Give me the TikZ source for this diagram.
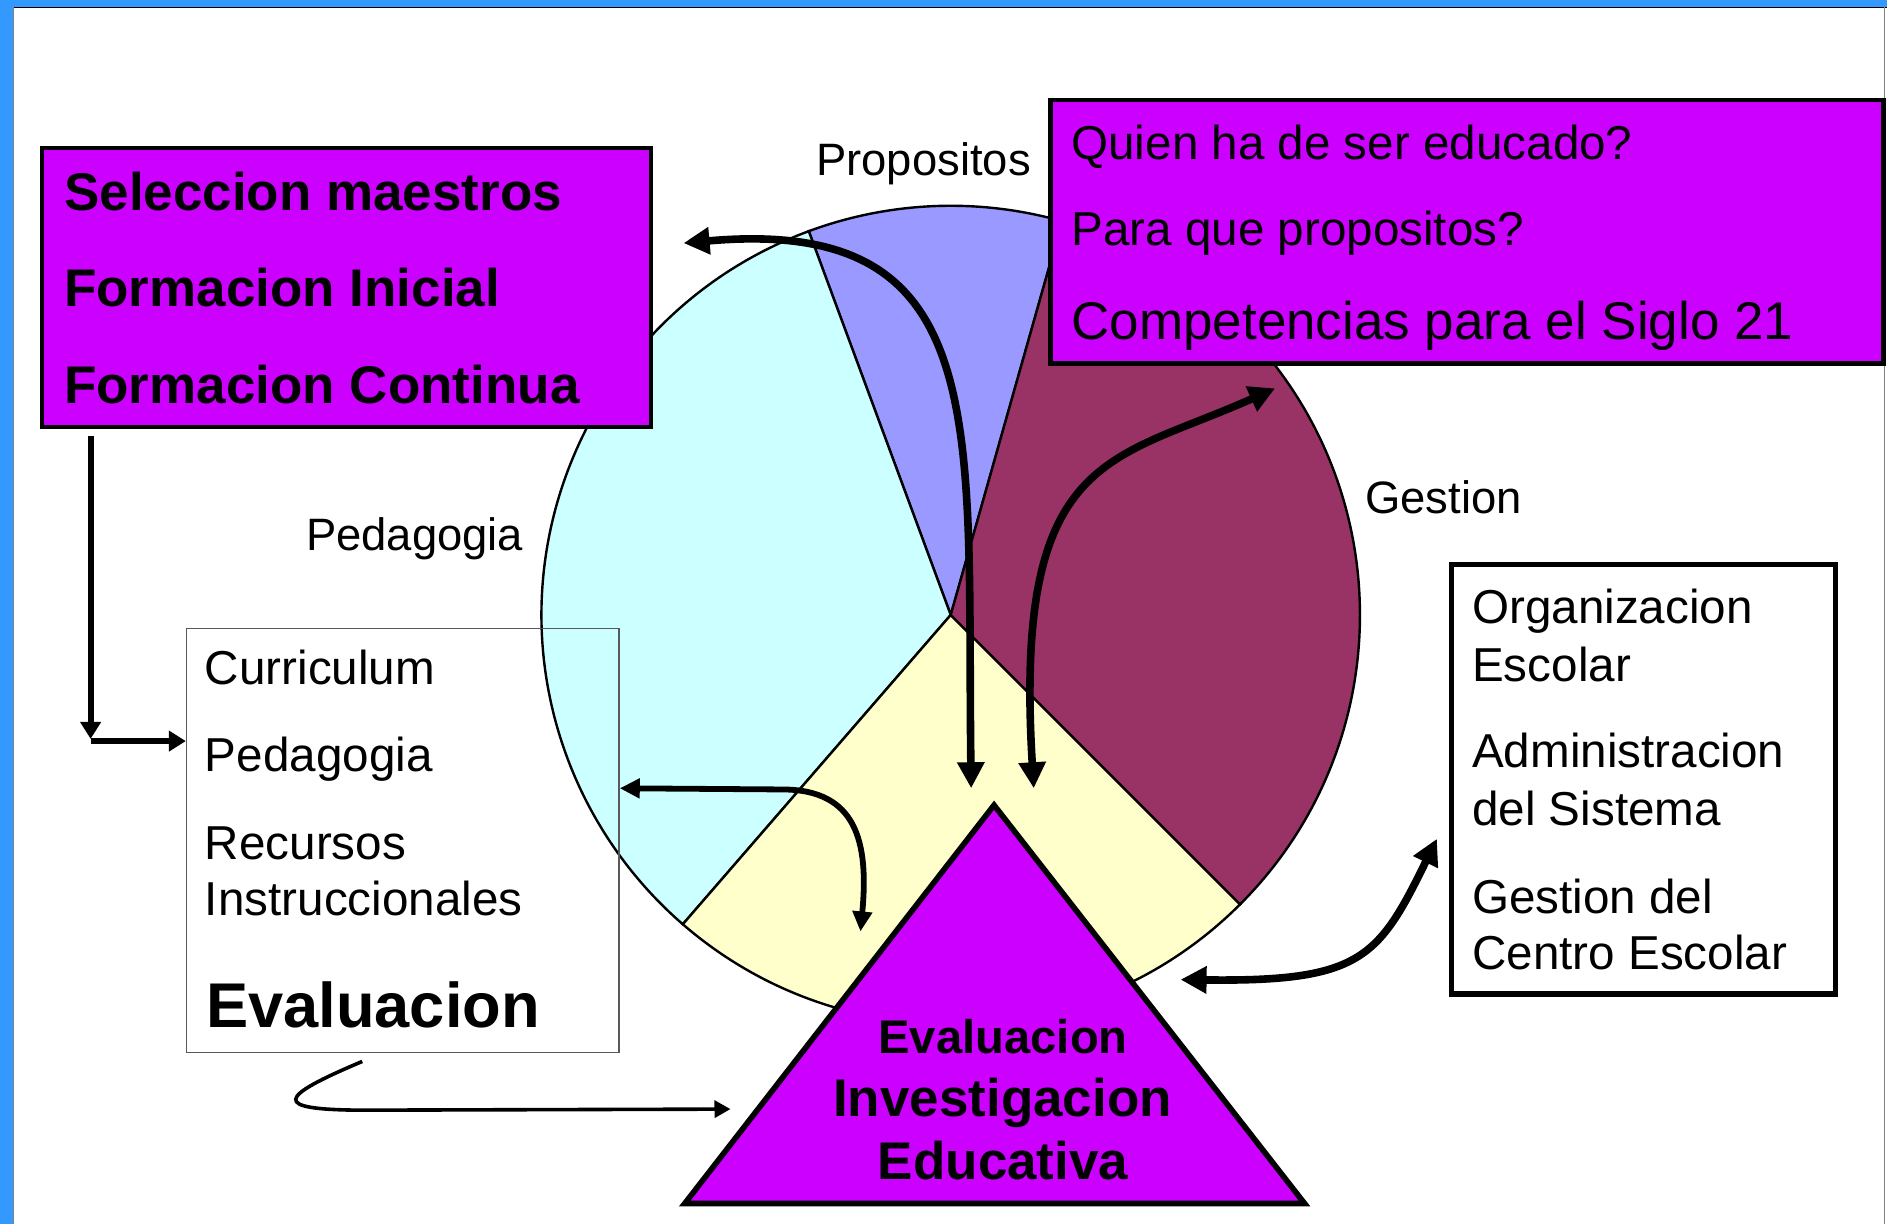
\documentclass[tikz,border=0pt]{standalone}
\usepackage{fontspec}
\setmainfont{Liberation Sans}
\usetikzlibrary{arrows.meta,fit}
\definecolor{magc}{HTML}{CC00FF}
\definecolor{slblue}{HTML}{9999FF}
\definecolor{slcyan}{HTML}{CCFFFF}
\definecolor{slyel}{HTML}{FFFFCC}
\definecolor{slmar}{HTML}{993366}
\definecolor{frameblue}{HTML}{3399FF}
\begin{document}
\begin{tikzpicture}[x=0.6017pt,y=-0.6017pt,
  magbox/.style={draw=black, line width=2.2pt, fill=magc, inner sep=0pt},
  lbl/.style={anchor=base west, inner sep=0pt, font=\fontsize{22.7pt}{27pt}\selectfont},
  regtxt/.style={anchor=base west, inner sep=0pt, font=\fontsize{23.8pt}{28pt}\selectfont},
  bigreg/.style={anchor=base west, inner sep=0pt, font=\fontsize{26.5pt}{31pt}\selectfont},
  boldtxt/.style={anchor=base west, inner sep=0pt, font=\fontsize{26.5pt}{31pt}\selectfont\bfseries},
  tritxt/.style={anchor=base, inner sep=0pt, font=\fontsize{26.5pt}{31pt}\selectfont\bfseries},
  slice/.style={draw=black, line width=1.2pt},
  bigarr/.style={line width=3.8pt, {Triangle[length=13pt,width=13pt]}-{Triangle[length=13pt,width=13pt]}},
  medarr/.style={line width=2.9pt, {Triangle[length=10pt,width=9.5pt]}-{Triangle[length=10pt,width=9.5pt]}},
  thinarr/.style={line width=1.8pt, -{Triangle[length=8pt,width=8.5pt]}},
  elarr/.style={line width=3.1pt, -{Triangle[length=8.5pt,width=10pt]}}
]
\useasboundingbox (0,0) rectangle (1568,1017);
\fill[white] (0,0) rectangle (1568,1017);
% frame
\fill[frameblue] (0,0) rectangle (1568,6);
\fill[frameblue] (0,0) rectangle (11,1017);
\draw[line width=0.6pt, black] (11,6.3) -- (1568,6.3);
\draw[line width=0.5pt, black!50] (11,6) -- (11,1017);
\draw[line width=0.6pt, black!50] (1566,6) -- (1566,1017);

% pie
\coordinate (pc) at (790,511);
\def\R{204.6pt}
\filldraw[slice, fill=slblue] (pc) -- +(74.2:\R) arc[start angle=74.2, end angle=110.3, radius=\R] -- cycle;
\filldraw[slice, fill=slcyan] (pc) -- +(110.3:\R) arc[start angle=110.3, end angle=229.1, radius=\R] -- cycle;
\filldraw[slice, fill=slyel] (pc) -- +(229.1:\R) arc[start angle=229.1, end angle=315, radius=\R] -- cycle;
\filldraw[slice, fill=slmar] (pc) -- +(-45:\R) arc[start angle=-45, end angle=74.2, radius=\R] -- cycle;

% pie labels
\node[lbl] (lprop) at (678,145.5) {Propositos};
\node[lbl] (lped) at (254,457.5) {Pedagogia};
\node[lbl] (lges) at (1134,427) {Gestion};

% left magenta box
\node[magbox, fit={(35,123) (541,355)}] (selbox) {};
\node[boldtxt] (sel1) at (53,175) {Seleccion maestros};
\node[boldtxt] (sel2) at (53,255) {Formacion Inicial};
\node[boldtxt] (sel3) at (53,335) {Formacion Continua};

% top right magenta box
\node[magbox, fit={(873,83) (1565,302)}] (qbox) {};
\node[regtxt] (q1) at (890,132.5) {Quien ha de ser educado?};
\node[regtxt] (q2) at (890,203.6) {Para que propositos?};
\node[bigreg] (q3) at (890,282.5) {Competencias para el Siglo 21};

% right white box
\node[draw=black, line width=2.6pt, fill=white, inner sep=0pt, fit={(1206,469) (1525,826)}] (gbox) {};
\node[regtxt] (g1) at (1223,518.4) {Organizacion};
\node[regtxt] (g2) at (1223,566.7) {Escolar};
\node[regtxt] (g3) at (1223,637.4) {Administracion};
\node[regtxt] (g4) at (1223,685.6) {del Sistema};
\node[regtxt] (g5) at (1223,758.7) {Gestion del};
\node[regtxt] (g6) at (1223,805.6) {Centro Escolar};

% left white box
\node[draw=black!65, line width=0.7pt, inner sep=0pt, fit={(155,522) (514.4,874.5)}] (cbox) {};
\node[regtxt] (c1) at (170,569) {Curriculum};
\node[regtxt] (c2) at (170,641) {Pedagogia};
\node[regtxt] (c3) at (170,714) {Recursos};
\node[regtxt] (c4) at (170,761) {Instruccionales};
\node[anchor=base west, inner sep=0pt, font=\fontsize{31.6pt}{36pt}\selectfont\bfseries] (c5) at (171,854) {Evaluacion};

% triangle
\coordinate (ta) at (826,669);
\coordinate (tl) at (569,1000);
\coordinate (tr) at (1084,1000);
\filldraw[fill=magc, draw=black, line width=2.8pt, line join=miter] (ta) -- (tl) -- (tr) -- cycle;
\node[tritxt, font=\fontsize{23.6pt}{28pt}\selectfont\bfseries] (t1) at (833.5,875) {Evaluacion};
\node[tritxt] (t2) at (833,928) {Investigacion};
\node[tritxt] (t3) at (833.5,980.3) {Educativa};

% arrows
\coordinate (a1s) at (568,202);
\coordinate (a1e) at (807,655);
\draw[bigarr] (a1s) .. controls (828,179) and (803,355) .. (a1e);

\coordinate (a2s) at (859,655);
\coordinate (a2e) at (1059.5,322.7);
\draw[bigarr] (a2s) .. controls (842,375) and (923,384) .. (a2e);

\coordinate (a3s) at (515,655);
\coordinate (a3m) at (650,656);
\coordinate (a3e) at (715,774);
\draw[medarr] (a3s) -- (a3m) .. controls (712,656) and (722,700) .. (a3e);

\coordinate (a4s) at (981,814);
\coordinate (a4e) at (1194,697);
\draw[bigarr] (a4s) .. controls (1131,816) and (1145.6,796) .. (a4e);

\coordinate (a5s) at (301,882);
\coordinate (a5m) at (300,922.5);
\coordinate (a5e) at (607,921.6);
\draw[thinarr] (a5s) .. controls (230,912) and (225,922) .. (a5m) -- (a5e);

\coordinate (a6s) at (75.3,362);
\coordinate (a6c) at (75.3,614);
\coordinate (a6h) at (75.3,615.8);
\draw[elarr] (a6s) -- (a6c);
\draw[elarr] (a6h) -- (a6h -| cbox.west);
\end{tikzpicture}
\end{document}
